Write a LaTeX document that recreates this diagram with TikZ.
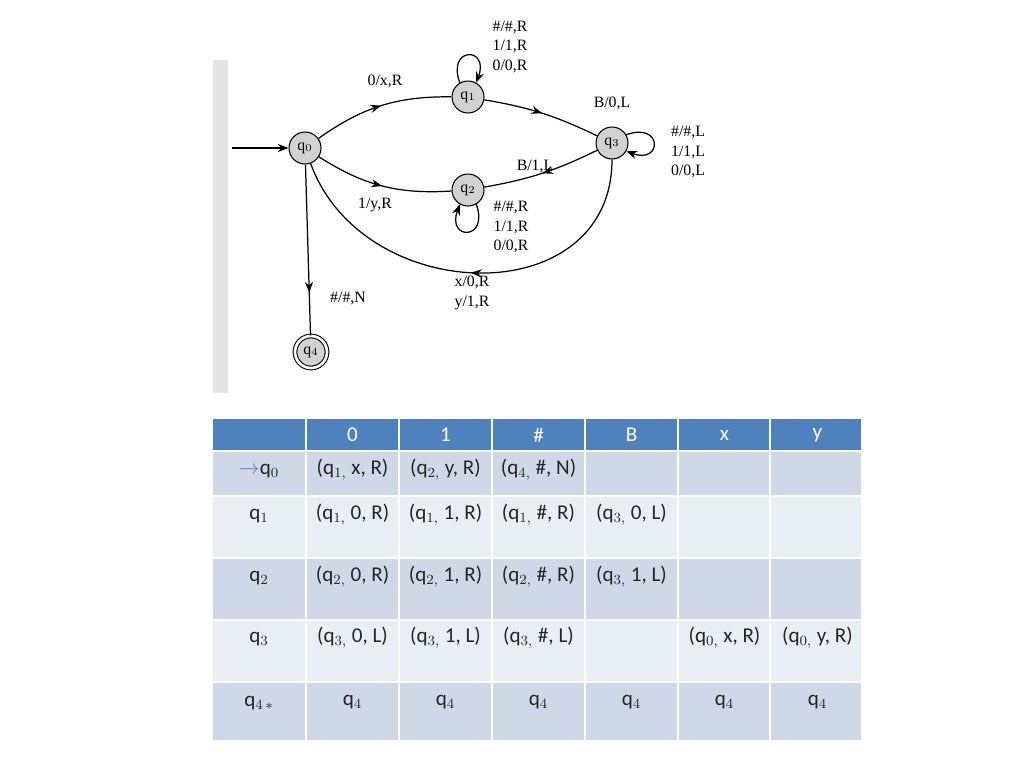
\documentclass[tikz,border=0pt]{standalone}
\usepackage{fontspec}
\setmainfont{Carlito}
\newfontfamily\scanfont{Liberation Serif}
\usetikzlibrary{arrows.meta,decorations.markings}
\definecolor{hdr}{HTML}{4F81BD}
\definecolor{rowa}{HTML}{D0D8E8}
\definecolor{rowb}{HTML}{E9EDF4}
\definecolor{scan}{HTML}{E4E4E4}
\tikzset{
  st/.style={circle, draw, fill=gray!35, line width=0.6pt, minimum size=32\px, inner sep=0pt, font=\scanfont\small},
  midarrow/.style={decoration={markings, mark=at position #1 with {\arrow{Stealth}}}, postaction={decorate}},
  midarrow/.default=0.5,
  lbl/.style={font=\scanfont\small, align=left, inner sep=1pt},
  cell/.style={font=\large, text=black!85},
}
\newlength{\px}\setlength{\px}{0.2mm}
\begin{document}
\begin{tikzpicture}[x=0.02cm, y=-0.02cm, line width=0.7pt]
    \useasboundingbox (0,0) rectangle (1024,768);
    \fill[scan] (213,60) rectangle (228,393);
    % states
    \node[st] (q0) at (305,148){q$_0$};
    \node[st] (q1) at (468,97){q$_1$};
    \node[st] (q2) at (468,190){q$_2$};
    \node[st] (q3) at (612,143){q$_3$};
    \node[st, double, double distance=1.5pt] (q4) at (311,352){q$_4$};
    \coordinate (start) at (232,148);
    \draw[-{Stealth}] (start) -- (q0);
    \draw[midarrow] (q0) to[bend left=18] (q1);
    \draw[midarrow] (q1) to[bend left=8] (q3);
    \draw[midarrow] (q0) to[bend right=18] (q2);
    \draw[midarrow] (q3) to[bend left=8] (q2);
    \draw[midarrow] (q3) to[out=-90, in=-70, looseness=1.3] (q0);
    \draw[midarrow=0.75] (q0) -- (q4);
    \draw[-{Stealth}] (q1.120) to[out=110, in=70, looseness=6] (q1.60);
    \draw[-{Stealth}] (q3.30) to[out=20, in=-20, looseness=6] (q3.-30);
    \draw[-{Stealth}] (q2.-60) to[out=-70, in=-110, looseness=6] (q2.-120);
    % labels
    \node[lbl] (l01) at (385,81){0/x,R};
    \node[lbl] (l13) at (612,103){B/0,L};
    \node[lbl] (l02) at (375,205){1/y,R};
    \node[lbl] (l32) at (535,166){B/1,L};
    \node[lbl] (l30) at (472,293){x/0,R\\y/1,R};
    \node[lbl] (l04) at (348,298){\#/\#,N};
    \node[lbl] (lq1) at (510,47){\#/\#,R\\1/1,R\\0/0,R};
    \node[lbl] (lq3) at (688,152){\#/\#,L\\1/1,L\\0/0,L};
    \node[lbl] (lq2) at (511,227){\#/\#,R\\1/1,R\\0/0,R};
    % table
    \fill[hdr] (213,419) rectangle (861,450);
    \foreach \ya/\yb/\c in {452/495/rowa, 497/557/rowb, 559/619/rowa, 621/681/rowb, 683/740/rowa}
      \fill[\c] (213,\ya) rectangle (861,\yb);
    \foreach \x in {306,399,492,585,678,770}
      \draw[white, line width=1.5pt] (\x,419) -- (\x,740);
    \foreach \t [count=\i] in {0,1,\#,B,x,y}
      \node[cell, text=white] (h\i) at (259.5+93*\i,435){\t};
    \node[cell] (r0) at (259,471){\textcolor{hdr}{$\rightarrow$}q$_0$};
    \node[cell] (r1) at (259,516){q$_1$};
    \node[cell] (r2) at (259,578){q$_2$};
    \node[cell] (r3) at (259,639){q$_3$};
    \node[cell] (r4) at (259,703){q$_{4\,*}$};
    \foreach \t [count=\i] in {(q$_{1,}$ x, R),(q$_{2,}$ y, R),(q$_{4,}$ \#, N)}
      \node[cell] (a\i) at (259.5+93*\i,470){\t};
    \foreach \t [count=\i] in {(q$_{1,}$ 0, R),(q$_{1,}$ 1, R),(q$_{1,}$ \#, R),(q$_{3,}$ 0, L)}
      \node[cell] (b\i) at (259.5+93*\i,515){\t};
    \foreach \t [count=\i] in {(q$_{2,}$ 0, R),(q$_{2,}$ 1, R),(q$_{2,}$ \#, R),(q$_{3,}$ 1, L)}
      \node[cell] (c\i) at (259.5+93*\i,577){\t};
    \foreach \t [count=\i] in {(q$_{3,}$ 0, L),(q$_{3,}$ 1, L),(q$_{3,}$ \#, L),{},(q$_{0,}$ x, R),(q$_{0,}$ y, R)}
      \node[cell] (d\i) at (259.5+93*\i,638){\t};
    \foreach \i in {1,...,6}
      \node[cell] (e\i) at (259.5+93*\i,702){q$_4$};
\end{tikzpicture}
\end{document}
